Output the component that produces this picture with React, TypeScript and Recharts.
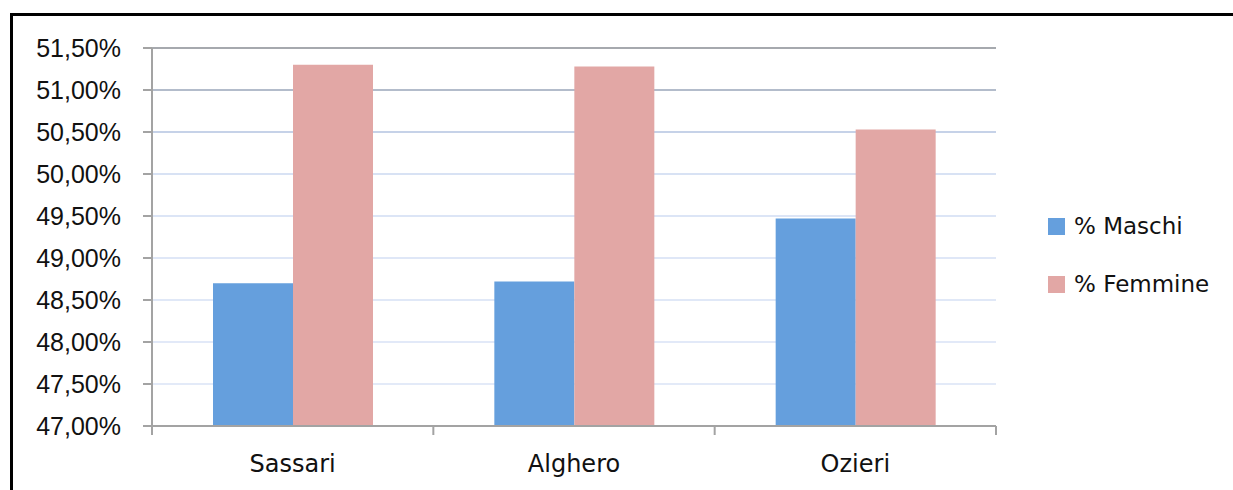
import { BarChart, Bar, XAxis, YAxis, CartesianGrid } from 'recharts'

const cities = ['Sassari', 'Alghero', 'Ozieri']
const maschi = [48.7, 48.72, 49.47]
const femmine = [51.3, 51.28, 50.53]
const yTicks = [47, 47.5, 48, 48.5, 49, 49.5, 50, 50.5, 51, 51.5]
const seriesNames = ['% Maschi', '% Femmine']

// gridline colours, top row first
const gridColors = ['#a6a9ae', '#b3bccb', '#c6d2e8', '#d8e2f4', '#dce5f6', '#dfe7f7', '#e0e8f7', '#e2e9f8', '#e3eaf8']

const BLUE = '#659fdd'
const PINK = '#e2a7a5'
const AXIS = '#a3a3a3'
const handFont = '"Comic Sans MS", "DejaVu Sans", sans-serif'

const data = cities.map((city, i) => ({ city, maschi: maschi[i], femmine: femmine[i] }))

const fmt = (v: number) => v.toFixed(2).replace('.', ',') + '%'

function GridLine(props: any) {
  const { x1, x2, y1, y2 } = props
  const row = Math.round((y1 - 48) / 42)
  if (row >= 9) return <g />
  return <line x1={x1} x2={x2} y1={y1} y2={y2} stroke={gridColors[row] ?? '#e0e8f7'} strokeWidth={2} />
}

// category label plus tick marks on the category boundaries
function CityTick(props: any) {
  const { x, y, payload, index, width, visibleTicksCount } = props
  const band = width / (visibleTicksCount || cities.length)
  const left = x - band / 2
  const right = x + band / 2
  return (
    <g>
      <line x1={left} x2={left} y1={y} y2={y + 9} stroke={AXIS} strokeWidth={2} />
      {index === cities.length - 1 && <line x1={right} x2={right} y1={y} y2={y + 9} stroke={AXIS} strokeWidth={2} />}
      <text x={x} y={y + 46} textAnchor="middle" fill="#111" fontSize={24} fontFamily={handFont}>
        {payload.value}
      </text>
    </g>
  )
}

function LegendBox() {
  const colors = [BLUE, PINK]
  return (
    <div style={{ position: 'absolute', left: 1048, top: 197, fontFamily: handFont, fontSize: 23, color: '#111' }}>
      {seriesNames.map((n, i) => (
        <div key={n} style={{ display: 'flex', alignItems: 'center', height: 58 }}>
          <span style={{ width: 17, height: 17, background: colors[i], display: 'inline-block', marginRight: 9 }} />
          <span>{n}</span>
        </div>
      ))}
    </div>
  )
}

export default function App() {
  return (
    <div style={{ position: 'absolute', left: 0, top: 0, width: 1233, height: 490, background: '#fff', overflow: 'hidden' }}>
      <div
        style={{
          position: 'absolute',
          left: 10,
          top: 13,
          width: 1240,
          height: 500,
          border: '3px solid #000',
          boxSizing: 'border-box',
        }}
      />
      <div style={{ position: 'absolute', left: 0, top: 0 }}>
        <BarChart
          width={1233}
          height={490}
          data={data}
          margin={{ top: 48, right: 237, bottom: 4, left: 0 }}
          barGap={0}
        >
          <CartesianGrid vertical={false} horizontal={GridLine as any} />
          <XAxis
            dataKey="city"
            height={60}
            axisLine={{ stroke: AXIS, strokeWidth: 2 }}
            tickLine={false}
            tickSize={0}
            tickMargin={0}
            interval={0}
            tick={<CityTick />}
          />
          <YAxis
            width={152}
            domain={[47, 51.5]}
            ticks={yTicks}
            interval={0}
            tickFormatter={fmt}
            axisLine={{ stroke: AXIS, strokeWidth: 2 }}
            tickLine={{ stroke: AXIS, strokeWidth: 2 }}
            tickSize={9}
            tickMargin={22}
            tick={{ fill: '#111', fontSize: 25, fontFamily: '"Liberation Sans", Arial, sans-serif' }}
          />
          <Bar dataKey="maschi" name={seriesNames[0]} fill={BLUE} barSize={80} isAnimationActive={false} />
          <Bar dataKey="femmine" name={seriesNames[1]} fill={PINK} barSize={80} isAnimationActive={false} />
        </BarChart>
      </div>
      <LegendBox />
    </div>
  )
}
